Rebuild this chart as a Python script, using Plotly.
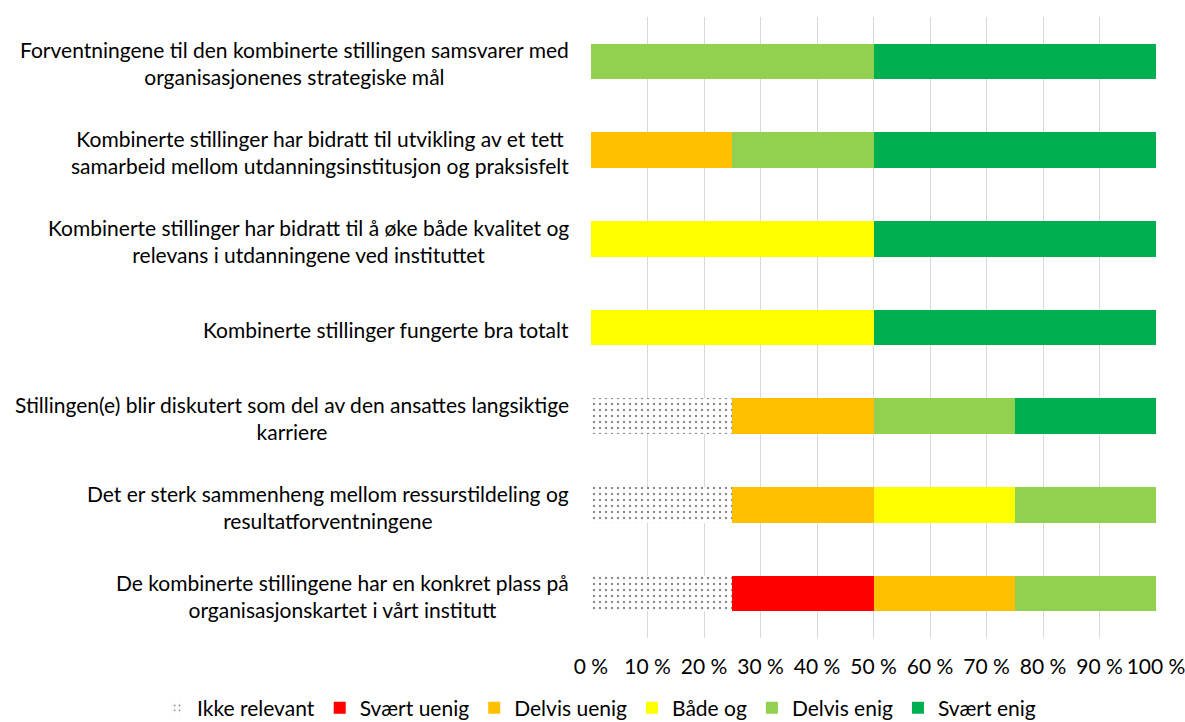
import plotly.graph_objects as go

categories = [
    "Forventningene til den kombinerte stillingen samsvarer med<br>organisasjonenes strategiske mål",
    "Kombinerte stillinger har bidratt til utvikling av et tett<br>samarbeid mellom utdanningsinstitusjon og praksisfelt",
    "Kombinerte stillinger har bidratt til å øke både kvalitet og<br>relevans i utdanningene ved instituttet",
    "Kombinerte stillinger fungerte bra totalt",
    "Stillingen(e) blir diskutert som del av den ansattes langsiktige<br>karriere",
    "Det er sterk sammenheng mellom ressurstildeling og<br>resultatforventningene",
    "De kombinerte stillingene har en konkret plass på<br>organisasjonskartet i vårt institutt",
]

ikke_relevant = [0, 0, 0, 0, 25, 25, 25]
svaert_uenig = [0, 0, 0, 0, 0, 0, 25]
delvis_uenig = [0, 25, 0, 0, 25, 25, 25]
baade_og = [0, 0, 50, 50, 0, 25, 0]
delvis_enig = [50, 25, 0, 0, 25, 25, 25]
svaert_enig = [50, 50, 50, 50, 25, 0, 0]

series_names = ["Ikke relevant", "Svært uenig", "Delvis uenig", "Både og", "Delvis enig", "Svært enig"]
series_values = [ikke_relevant, svaert_uenig, delvis_uenig, baade_og, delvis_enig, svaert_enig]
series_colors = [None, "#FF0000", "#FFC000", "#FFFF00", "#92D050", "#00B050"]

tick_vals = [0, 10, 20, 30, 40, 50, 60, 70, 80, 90, 100]
tick_text = [f"{v} %" for v in tick_vals]

FONT = "Lato"
FS = 21

fig = go.Figure()
for name, vals, col in zip(series_names, series_values, series_colors):
    if col is None:
        marker = dict(color="white",
                      pattern=dict(shape=".", fgcolor="#111111", bgcolor="white",
                                   size=6, solidity=0.12, fillmode="overlay"),
                      line=dict(width=0))
    else:
        marker = dict(color=col, line=dict(width=0))
    fig.add_trace(go.Bar(
        y=categories, x=vals, name=name, orientation="h", marker=marker,
        hovertemplate="%{x} %<extra>" + name + "</extra>",
    ))

for cat in categories:
    fig.add_annotation(
        x=0, xref="paper", y=cat, yref="y", text=cat, showarrow=False,
        xanchor="right", xshift=-20, yshift=-2, align="center",
        font=dict(family=FONT, size=FS, color="#000000"),
    )

fig.update_layout(
    width=1185, height=722,
    barmode="stack", bargap=0.6,
    plot_bgcolor="white", paper_bgcolor="white",
    margin=dict(l=591, r=29, t=17, b=84, autoexpand=False),
    font=dict(family=FONT, size=FS, color="#000000"),
    xaxis=dict(range=[0, 100], tickvals=tick_vals, ticktext=tick_text,
               showgrid=True, gridcolor="#D9D9D9", gridwidth=1,
               zeroline=False, showline=False, ticks="", automargin=False,
               ticklabelstandoff=14, ticklabeloverflow="allow",
               tickfont=dict(family=FONT, size=FS, color="#000000")),
    yaxis=dict(categoryorder="array", categoryarray=categories,
               autorange="reversed", showticklabels=False, showgrid=False,
               zeroline=False, showline=False, automargin=False),
    legend=dict(orientation="h", xref="paper", x=-0.768, xanchor="left",
                yref="paper", y=-0.113, yanchor="middle",
                traceorder="normal", font=dict(family=FONT, size=FS, color="#000000"),
                itemwidth=30),
    showlegend=True,
)

fig.write_html("out.html", config={"displayModeBar": False},
               post_script="document.body.style.margin='0';document.body.style.padding='0';")
